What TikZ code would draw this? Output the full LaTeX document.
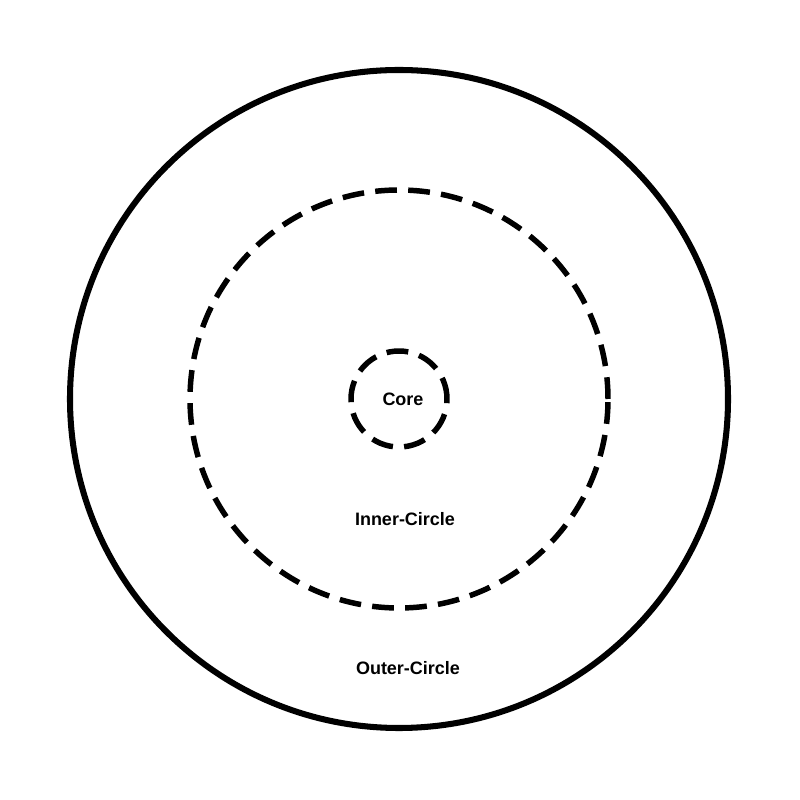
\documentclass[tikz,border=0pt]{standalone}
\usepackage{fontspec}
\setmainfont{Liberation Sans}
\usetikzlibrary{shapes.geometric}
\usepackage{xcolor}

\begin{document}
\begin{tikzpicture}[ring/.style={shape=circle,draw=black,inner sep=0pt},
    dashring/.style={ring,line width=3.9pt,dash pattern=on 15.5pt off 8pt},
    label/.style={shape=rectangle,inner sep=0pt,font=\fontsize{12.8}{15}\selectfont}]
      %\draw[help lines] (0,0) grid (20,20); % Only for Development
      \useasboundingbox (0,0) rectangle (20,20);

      \node (outer) [ring,
        line width=4.3pt,
        minimum size = 16.45cm] at (9.975,10.025) {};
      \node (inner) [dashring,
        minimum size = 10.45cm] at (outer.center) {};
      \node (core) [dashring,
        minimum size = 2.4cm] at (outer.center) {};

      \node (corelabel) [label] at (10.075,10.025) {\textbf{Core}};
      \node (innerlabel) [label] at (10.125,7.025) {\textbf{Inner-Circle}};
      \node (outerlabel) [label] at (10.2,3.3) {\textbf{Outer-Circle}};

    \end{tikzpicture}
\end{document}
